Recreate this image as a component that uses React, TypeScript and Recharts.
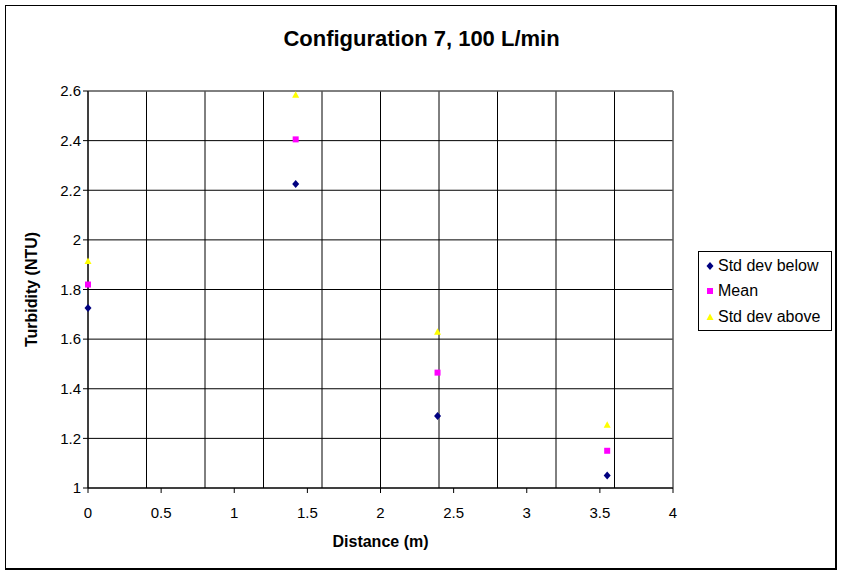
import { ScatterChart, Scatter, XAxis, YAxis, CartesianGrid, ReferenceLine, Legend } from 'recharts';

const distance = [0, 1.42, 2.39, 3.55];
const stdBelow = [1.725, 2.225, 1.29, 1.05];
const mean = [1.82, 2.405, 1.465, 1.15];
const stdAbove = [1.915, 2.585, 1.63, 1.255];

const xTicks = [0, 0.5, 1, 1.5, 2, 2.5, 3, 3.5, 4];
const xGrid = [0, 0.4, 0.8, 1.2, 1.6, 2, 2.4, 2.8, 3.2, 3.6, 4];
const yTicks = [1, 1.2, 1.4, 1.6, 1.8, 2, 2.2, 2.4, 2.6];

const FONT = '"Liberation Sans", Arial, sans-serif';

const toPoints = (ys: number[]) => distance.map((x, i) => ({ x, y: ys[i] }));

const series = [
  { name: 'Std dev below', data: toPoints(stdBelow), color: '#000080', marker: 'diamond' },
  { name: 'Mean', data: toPoints(mean), color: '#FF00FF', marker: 'square' },
  { name: 'Std dev above', data: toPoints(stdAbove), color: '#FFFF00', marker: 'triangle' },
];

function Marker({ kind, cx, cy, color }: { kind: string; cx: number; cy: number; color: string }) {
  if (kind === 'diamond') {
    return <polygon points={`${cx},${cy - 4} ${cx + 3.5},${cy} ${cx},${cy + 4} ${cx - 3.5},${cy}`} fill={color} />;
  }
  if (kind === 'square') {
    return <rect x={cx - 3} y={cy - 3} width={6} height={6} fill={color} />;
  }
  return <polygon points={`${cx},${cy - 3.5} ${cx + 3.5},${cy + 3} ${cx - 3.5},${cy + 3}`} fill={color} />;
}

function LegendBox() {
  return (
    <div
      style={{
        border: '1px solid #000',
        background: '#fff',
        boxSizing: 'border-box',
        width: 134,
        height: 80,
        padding: '1px 0 0 6px',
        fontFamily: FONT,
        fontSize: 16,
        color: '#000',
      }}
    >
      {series.map((s) => (
        <div key={s.name} style={{ display: 'flex', alignItems: 'center', height: 25.5 }}>
          <svg width={10} height={10} style={{ marginRight: 3 }}>
            <Marker kind={s.marker} cx={5} cy={5} color={s.color} />
          </svg>
          <span>{s.name}</span>
        </div>
      ))}
    </div>
  );
}

export default function App() {
  return (
    <div style={{ position: 'absolute', left: 0, top: 0, width: 843, height: 574, background: '#fff' }}>
      <div
        style={{
          position: 'absolute',
          left: 5,
          top: 5,
          width: 832,
          height: 565,
          boxSizing: 'border-box',
          borderTop: '1px solid #000',
          borderLeft: '1px solid #000',
          borderRight: '2px solid #000',
          borderBottom: '2px solid #000',
        }}
      />
      <div
        style={{
          position: 'absolute',
          left: 0,
          width: 843,
          top: 28,
          textAlign: 'center',
          fontFamily: FONT,
          fontWeight: 'bold',
          fontSize: 22,
          lineHeight: '22px',
          color: '#000',
        }}
      >
        Configuration 7, 100 L/min
      </div>
      <div style={{ position: 'absolute', left: 0, top: 0 }}>
        <ScatterChart width={843} height={574} margin={{ top: 91, right: 36, bottom: 0, left: 0 }}>
          <CartesianGrid
            stroke="#000"
            strokeWidth={1}
            verticalCoordinatesGenerator={({ offset }: any) =>
              xGrid.map((v) => offset.left + (v / 4) * offset.width)
            }
          />
          <XAxis
            type="number"
            dataKey="x"
            domain={[0, 4]}
            ticks={xTicks}
            height={86}
            stroke="#000"
            tickSize={5}
            tickMargin={14}
            tick={{ fill: '#000', fontSize: 15, fontFamily: FONT }}
            label={{
              value: 'Distance (m)',
              position: 'insideBottom',
              offset: 27,
              style: { fontFamily: FONT, fontSize: 16, fontWeight: 'bold', fill: '#000' },
            }}
          />
          <YAxis
            type="number"
            dataKey="y"
            domain={[1, 2.6]}
            ticks={yTicks}
            width={88}
            stroke="#000"
            tickSize={5}
            tickMargin={2}
            tick={{ fill: '#000', fontSize: 15, fontFamily: FONT }}
            label={{
              value: 'Turbidity (NTU)',
              angle: -90,
              position: 'insideLeft',
              offset: 31,
              style: { fontFamily: FONT, fontSize: 16, fontWeight: 'bold', fill: '#000', textAnchor: 'middle' },
            }}
          />
          <ReferenceLine y={2.6} stroke="#808080" />
          <ReferenceLine x={4} stroke="#808080" />
          <Legend
            layout="vertical"
            align="right"
            verticalAlign="middle"
            content={() => <LegendBox />}
            wrapperStyle={{ position: 'absolute', left: 698, top: 251, width: 134, height: 80 }}
          />
          {series.map((s) => (
            <Scatter
              key={s.name}
              name={s.name}
              data={s.data}
              fill={s.color}
              isAnimationActive={false}
              shape={(p: any) => <Marker kind={s.marker} cx={p.cx} cy={p.cy} color={s.color} />}
            />
          ))}
        </ScatterChart>
      </div>
    </div>
  );
}
